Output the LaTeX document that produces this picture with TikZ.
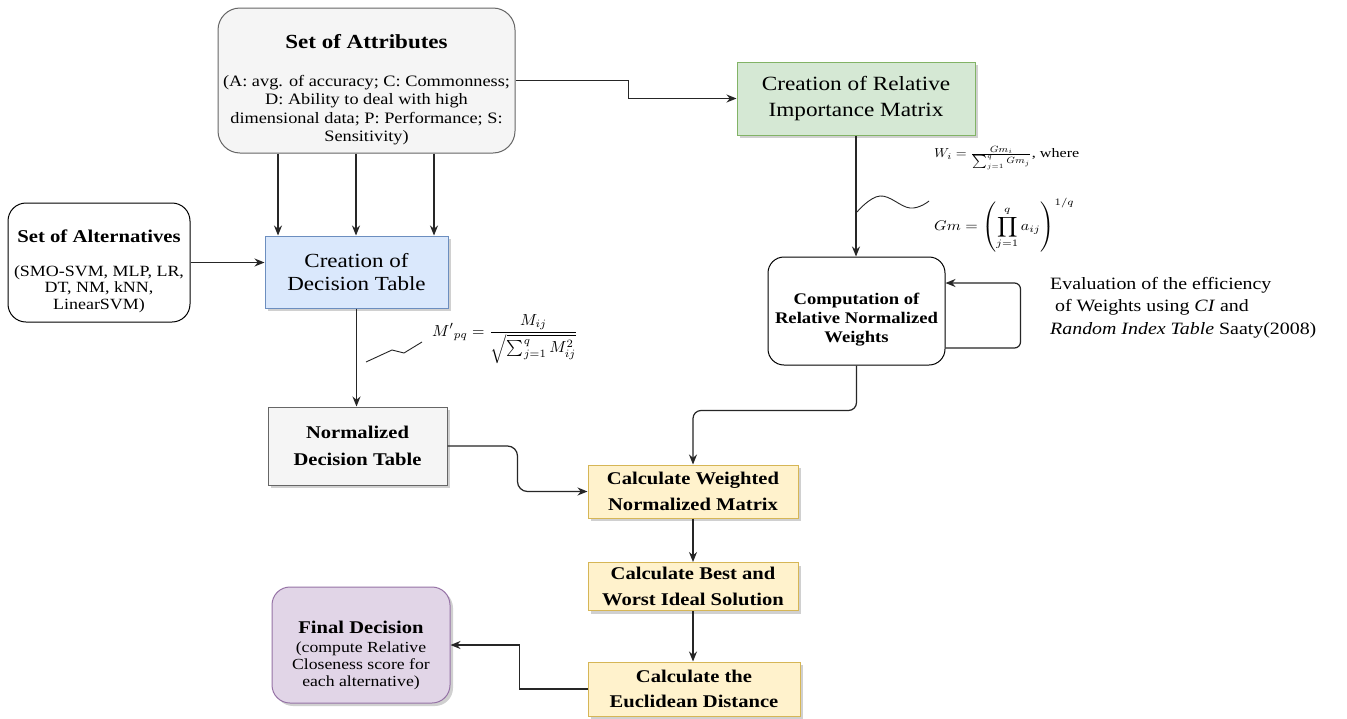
\documentclass[tikz,border=0pt]{standalone}
\usepackage{fontspec}
\setmainfont{Liberation Serif}[FakeStretch=1.15]
\usetikzlibrary{shadows,arrows.meta,calc}
\definecolor{grayfill}{HTML}{F5F5F5}
\definecolor{graydraw}{HTML}{666666}
\definecolor{greenfill}{HTML}{D5E8D4}
\definecolor{greendraw}{HTML}{82B366}
\definecolor{bluefill}{HTML}{DAE8FC}
\definecolor{bluedraw}{HTML}{6C8EBF}
\definecolor{yellowfill}{HTML}{FFF2CC}
\definecolor{yellowdraw}{HTML}{D6B656}
\definecolor{purplefill}{HTML}{E1D5E7}
\definecolor{purpledraw}{HTML}{9673A6}
\begin{document}
\begin{tikzpicture}[x=1pt,y=-1pt,
  arr/.style={-{Stealth[length=10pt,width=8pt]}, line width=1.2pt, draw=black!85},
  shad/.style={drop shadow={shadow xshift=3pt,shadow yshift=-3pt,opacity=0.3,fill=black!60}},
  rbox/.style={draw, line width=1pt, shad, align=center},
  roundbox/.style={draw, line width=1pt, rounded corners=18pt},
  lbl/.style={align=center, inner sep=0pt},
  ybox/.style={rbox, fill=yellowfill, draw=yellowdraw, minimum width=210pt, minimum height=53pt, inner sep=2pt, font=\bfseries\fontsize{17.9}{25.5}\selectfont},
  squig/.style={line width=0.9pt, draw=black!85}
]
\useasboundingbox (0,0) rectangle (1347,718);
\fill[white] (0,0) rectangle (1347,718);

% Set of Attributes
\node[roundbox, fill=grayfill, draw=graydraw, rounded corners=22pt, minimum width=297pt, minimum height=145pt] (attr) at (366.5,80.5) {};
\node[lbl, font=\bfseries\fontsize{20}{24}\selectfont] (attrt) at (366.5,42) {Set of Attributes};
\node[lbl, font=\fontsize{15.9}{18.3}\selectfont] (attrb) at (366.5,110) {(A: avg. of accuracy; C: Commonness;\\D: Ability to deal with high\\dimensional data; P: Performance; S:\\Sensitivity)};

% Set of Alternatives
\node[roundbox, fill=white, minimum width=182pt, minimum height=119pt] (alt) at (99,262.5) {};
\node[lbl, font=\bfseries\fontsize{18}{21}\selectfont] (altt) at (99,236) {Set of Alternatives};
\node[lbl, font=\fontsize{15.6}{16.5}\selectfont] (altb) at (99,289) {(SMO-SVM, MLP, LR,\\DT, NM, kNN,\\LinearSVM)};

% Creation of Decision Table
\node[rbox, fill=bluefill, draw=bluedraw, minimum width=183pt, minimum height=72pt, font=\fontsize{20}{23.5}\selectfont] (dt) at (356.5,272) {Creation of\\Decision Table};

% Relative importance matrix
\node[rbox, fill=greenfill, draw=greendraw, minimum width=238pt, minimum height=73pt, font=\fontsize{20.2}{26.5}\selectfont] (rim) at (856,98.5) {Creation of Relative\\Importance Matrix};

% Computation of relative normalized weights
\node[roundbox, fill=white, rounded corners=16pt, minimum width=177pt, minimum height=108pt] (comp) at (856.5,311) {};
\node[lbl, font=\bfseries\fontsize{16.2}{19}\selectfont] (compt) at (856.5,320) {Computation of\\Relative Normalized\\Weights};

% Evaluation text
\node[anchor=west, align=left, inner sep=0pt, font=\fontsize{17.3}{22.5}\selectfont] (eval) at (1050,307.5) {Evaluation of the efficiency\\\ of Weights using \textit{CI} and\\\textit{Random Index Table} Saaty(2008)};

% Normalized decision table
\node[rbox, fill=grayfill, draw=graydraw, minimum width=179pt, minimum height=78pt, font=\bfseries\fontsize{17.9}{27}\selectfont] (norm) at (357.5,446) {Normalized\\Decision Table};

% Yellow steps
\node[ybox] (wnm) at (693,491.5) {Calculate Weighted\\Normalized Matrix};
\node[ybox, minimum height=48pt] (best) at (693,586.5) {Calculate Best and\\Worst Ideal Solution};
\node[ybox, minimum height=54pt, minimum width=212pt] (euc) at (694,689) {Calculate the\\Euclidean Distance};

% Final decision
\node[roundbox, fill=purplefill, draw=purpledraw, shad, minimum width=178pt, minimum height=116pt] (fin) at (361,645) {};
\node[lbl, font=\bfseries\fontsize{17.9}{21}\selectfont] (fint) at (361,627) {Final Decision};
\node[lbl, font=\fontsize{15.4}{17}\selectfont] (finb) at (361,665.5) {(compute Relative\\Closeness score for\\each alternative)};

% Formulas
\node[inner sep=0pt, anchor=west] (fw) at (934,158) {\scalebox{1.4}[1.3]{$W_i=\frac{Gm_i}{\sum_{j=1}^{q}Gm_j}$, where}};
\node[inner sep=0pt, anchor=west] (fg) at (934,225) {\scalebox{1.6}[1.4]{$\displaystyle Gm=\left(\prod_{j=1}^{q}a_{ij}\right)^{1/q}$}};
\node[inner sep=0pt, anchor=west] (fm) at (432,339) {\scalebox{1.6}[1.6]{$\displaystyle {M'}_{pq}=\frac{M_{ij}}{\sqrt{\sum_{j=1}^{q}M_{ij}^{2}}}$}};

% Connectors
\coordinate (a1) at ($(attr.south)+(-88.5,0)$);
\coordinate (a2) at ($(attr.south)+(-10.5,0)$);
\coordinate (a3) at ($(attr.south)+(67.5,0)$);
\draw[arr] (a1) -- (a1 |- dt.north);
\draw[arr] (a2) -- (a2 |- dt.north);
\draw[arr] (a3) -- (a3 |- dt.north);
\draw[arr] (attr.east) -- ++(113,0) |- (rim.west);
\draw[arr] (alt.east) -- (alt.east -| dt.west);
\draw[arr] (rim.south) -- (rim.south |- comp.north);
\draw[arr] (dt.south) -- (dt.south |- norm.north);
\draw[arr, rounded corners=10pt] (norm.east) -- ++(70,0) |- (wnm.west);
\draw[arr, rounded corners=8pt] (comp.south) -- ++(0,45) -| (wnm.north);
\draw[arr] (wnm.south) -- (best.north);
\draw[arr] (best.south) -- (best.south |- euc.north);
\draw[arr] (euc.west) -- ++(-68,0) |- (fin.east);
\draw[arr, rounded corners=6pt] ([yshift=-37pt]comp.east) -- ++(75,0) |- ([yshift=28pt]comp.east);

% Squiggles
\draw[squig] plot[smooth, tension=0.7] coordinates {(857,212) (880,196) (910,208) (929,201)};
\draw[squig] (366,362) -- (392,350) -- (404,353) -- (422,342);
\end{tikzpicture}
\end{document}
